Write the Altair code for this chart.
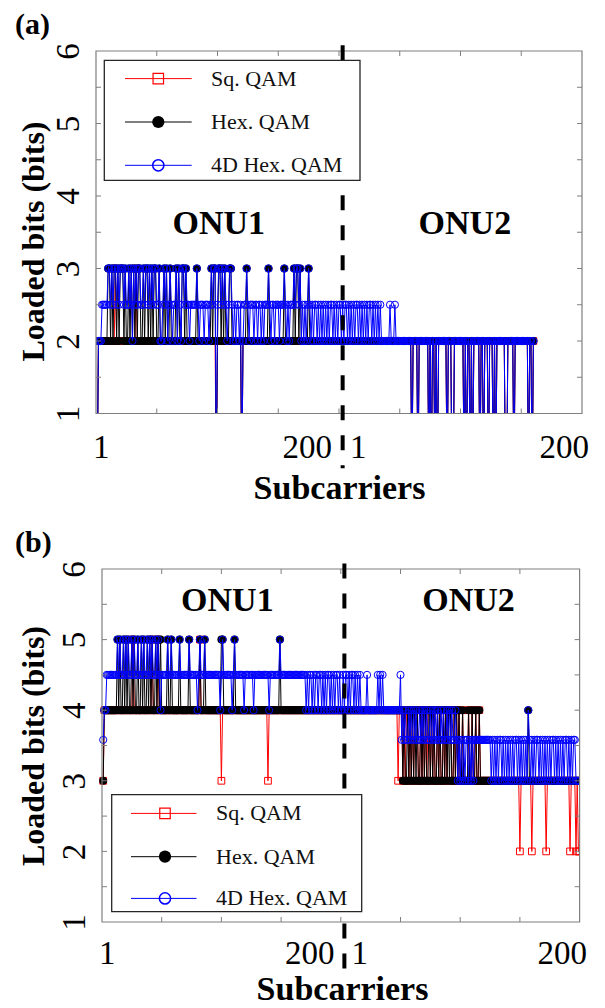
import altair as alt
import pandas as pd

FONT = "Liberation Serif"
GRAY = "#7f7f7f"

# ---------------- data (one character per subcarrier, index 1..N) ----------------
# panel (a) level codes
A_LEVELS = {"0": 0.0, "2": 2.0, "5": 2.5, "3": 3.0}
# panel (b) level codes
B_LEVELS = {"2": 2.0, "3": 3.0, "a": 3.58, "4": 4.0, "b": 4.5, "5": 5.0}

A_SQ = """
0222222222 2222232222 2222222222 2232222222 2222222222
2222222222 2222222222 2222222222 2222222222 2222222202
2222222222 2222222220 2222222222 2222222222 2222222222
2222222222 2222222222 2222222222 2222222222 2222222222
2222222222 2222222222 2222222222 2222222222 2222222222
2222222220 2222022222 2220202202 0222222202 2200222222
2202022020 2222202202 2202220202 2222220022 2220222222
2222202202
"""
A_HEX = """
0222222223 3232332323 3323223232 3232332232 3323232332
2322232322 3222232322 3323222222 2232222222 2222323302
3323232223 3222222220 2223222222 2222222222 2322222222
2222322222 2232332322 2222322222 2222222222 2222222222
2222222222 2222222222 2222222222 2222222222 2222222222
2222222220 2222022222 2220202202 0222222202 2200222222
2202022020 2222202202 2202220202 2222220022 2220222222
2222202202
"""
A_4D = """
0222555553 3535335353 3353553532 3535335535 3353535335
5322535325 3525532352 3353552555 5535255525 5525353305
3353535253 3525255250 2553525552 5525525255 5352552555
2555352525 5535335325 2525352525 5252525252 5255252525
5252552525 2525525252 5252552525 2525222222 2522252222
2222222220 2222022222 2220202202 0222222202 2200222222
2202022020 2222202202 2202220202 2222220022 2220222222
2222202202
"""

B_SQ = """
3444444444 4444444444 4444454444 4444444444 4544445444
4444444444 4444444444 4444444444 4544444444 4444444443
4444444444 4444444444 4444444444 4444444434 4444444444
4444444444 4444444444 4444444444 4444444444 4444444444
4444444444 4444444444 4444444444 4444444444 4444444344
4343443434 3444334343 4344343433 4343343434 4433434343
3433334334 3343343333 3333333333 3333333333 3333333332
3333333332 3333333333 3233333333 3333333333 3233332322
"""
B_HEX = """
3444444444 4454544545 4544545445 4454544545 4544545454
4444544544 4444544444 4454444444 4544454444 4444444445
5444444444 5444444444 4444444444 4444444444 4444444454
4444444444 4444444444 4444444444 4444444444 4444444444
4444444444 4444444444 4444444444 4444444444 4444444444
4343343434 3434334343 4334343433 4343343434 3433434343
3433334334 3343343333 3333333333 3333333333 3333333333
3333334333 3333333333 3333333333 3333333333 3333333333
"""
B_4D = """
a44bbbbbbb bb5b5bb5b5 b5bb5b5bb5 bb5b5bb5b5 b5bb5b5b4b
bbbb5bb5bb bbbb5bbbbb bb5bbbbbb4 b5bbb5bbbb bbbbbbbb4b
5bbbbbbb4b 5bbbbbbb4b bbbbbb4bbb bbbbbbbbb4 bbbbbbbb5b
bbbbbbbbbb bbbbbbbbbb 4b4bb4b4bb 4bb4b4b4bb 4b4b4bb4b4
4b4bb4b4bb 4b4b4b4444 4b44444444 b4b4b44444 444444444b
a4a4aa4a4a 4a4aa4a4a4 a4aa4a4a4a 4aa4a4aa4a 4a4aa4a3a3
a3a3aa3a3a 3aaaaaaaaa aaaaa3a3a3 a3aa3a3a3a 3a3a3aa3a3
a3a3a34a3a 3a3aa3a3a3 a3a3a3aa3a 3a3a3a3aa3 a3a3aa3333
"""

SERIES = ["Sq. QAM", "Hex. QAM", "4D Hex. QAM"]
COLORS = ["#ff0000", "#000000", "#0000ff"]
X_LABEL_POS = [4, 173.5, 215.5, 385]
X_LABEL_TEXT = ["1", "200", "1", "200"]
X_TICKS = [50, 100, 150, 200, 250, 300, 350]
Y_TICKS = [1.5, 2, 2.5, 3, 3.5, 4, 4.5, 5, 5.5]
Y_LABELS = [1, 2, 3, 4, 5, 6]
ONU_SPLIT = 203
ONU_TEXT = ["ONU1", "ONU2"]
A_ONU_X = [101, 303.6]
A_ONU_Y = [3.62, 3.62]
B_ONU_X = [105, 307]
B_ONU_Y = [5.54, 5.54]


def series_df(codes, levels):
    s = "".join(codes.split())
    return pd.DataFrame({"x": list(range(1, len(s) + 1)), "y": [levels[c] for c in s]})


DUMMY = pd.DataFrame({"d": [0]})
label_expr = "[" + ",".join("'%s'" % t for t in X_LABEL_TEXT) + "][indexof([" + \
    ",".join(str(p) for p in X_LABEL_POS) + "], datum.value)]"


def make_panel(tag, dfs, W, H, x_range, lab_pad_x, title_xy, lab_pad_y, ytitle_xy,
               onu_x, onu_y, leg, dash_extent):
    xs = alt.Scale(domain=[0, 400], nice=False, zero=False, **({"range": x_range} if x_range else {}))
    ys = alt.Scale(domain=[1, 6], nice=False, zero=False)
    ax_x = alt.Axis(values=X_LABEL_POS, labelExpr=label_expr, ticks=False, tickSize=0, domain=False,
                    grid=False, labelFont=FONT, labelFontSize=33, labelColor="black",
                    labelAlign="center", labelBaseline="alphabetic", labelPadding=lab_pad_x,
                    labelFlush=False, labelOverlap=False, title="Subcarriers", titleFont=FONT,
                    titleFontSize=34, titleFontWeight="bold", titleColor="black",
                    titleX=title_xy[0], titleY=title_xy[1], titleAlign="center",
                    titleBaseline="alphabetic")
    ax_y = alt.Axis(values=Y_LABELS, format="d", ticks=False, tickSize=0, domain=False, grid=False,
                    labelFont=FONT, labelFontSize=33, labelColor="black", labelAngle=270,
                    labelAlign="center", labelBaseline="alphabetic", labelPadding=lab_pad_y,
                    labelFlush=False, labelOverlap=False, title="Loaded bits (bits)",
                    titleFont=FONT, titleFontSize=32, titleFontWeight="bold", titleColor="black",
                    titleAngle=270, titleX=ytitle_xy[0], titleY=ytitle_xy[1],
                    titleAlign="center", titleBaseline="alphabetic")

    def X(f):
        return alt.X(f, type="quantitative", scale=xs, axis=ax_x)

    def Y(f):
        return alt.Y(f, type="quantitative", scale=ys, axis=ax_y)

    layers = []
    marks = [
        dict(shape="square", filled=False, size=45, strokeWidth=1),
        dict(shape="circle", filled=True, size=65),
        dict(shape="circle", filled=False, size=52, strokeWidth=1),
    ]
    for df, color, mk in zip(dfs, COLORS, marks):
        layers.append(alt.Chart(df).mark_line(color=color, strokeWidth=1, clip=True)
                      .encode(x=X("x"), y=Y("y")))
        layers.append(alt.Chart(df).mark_point(color=color, opacity=1, clip=True, **mk)
                      .encode(x=X("x"), y=Y("y")))

    left = x_range[0] if x_range else 0
    right = x_range[1] if x_range else W

    # frame and inward ticks
    layers.append(alt.Chart(DUMMY).mark_rect(fillOpacity=0, stroke=GRAY, strokeWidth=1.2)
                  .encode(x=alt.datum(0), x2=alt.datum(400), y=alt.datum(1), y2=alt.datum(6)))
    xt = pd.DataFrame({"v": X_TICKS})
    yt = pd.DataFrame({"v": Y_TICKS})
    layers.append(alt.Chart(xt).mark_rule(color=GRAY, strokeWidth=1)
                  .encode(x=X("v"), y=alt.value(0), y2=alt.value(5)))
    layers.append(alt.Chart(xt).mark_rule(color=GRAY, strokeWidth=1)
                  .encode(x=X("v"), y=alt.value(H - 5), y2=alt.value(H)))
    layers.append(alt.Chart(yt).mark_rule(color=GRAY, strokeWidth=1)
                  .encode(y=Y("v"), x=alt.value(left), x2=alt.value(left + 5)))
    layers.append(alt.Chart(yt).mark_rule(color=GRAY, strokeWidth=1)
                  .encode(y=Y("v"), x=alt.value(right - 5), x2=alt.value(right)))

    # ONU separator
    layers.append(alt.Chart(DUMMY).mark_rule(color="black", strokeWidth=4, strokeDash=[15, 15])
                  .encode(x=alt.datum(ONU_SPLIT), y=alt.value(dash_extent[0]),
                          y2=alt.value(dash_extent[1])))

    onu_df = pd.DataFrame({"x": onu_x, "y": onu_y, "label": ONU_TEXT})
    layers.append(alt.Chart(onu_df).mark_text(font=FONT, fontSize=34, fontWeight="bold",
                                              color="black", align="center", baseline="middle")
                  .encode(x=X("x"), y=Y("y"), text="label:N"))

    # legend
    bx0, bx1, by0, by1, lx0, lx1, mx, tx, rows = leg
    layers.append(alt.Chart(DUMMY).mark_rect(fill="white", stroke="#262626", strokeWidth=1.3)
                  .encode(x=alt.value(bx0), x2=alt.value(bx1), y=alt.value(by0), y2=alt.value(by1)))
    leg_marks = [
        dict(shape="square", filled=False, size=110, strokeWidth=1.2),
        dict(shape="circle", filled=True, size=150),
        dict(shape="circle", filled=False, size=125, strokeWidth=1.5),
    ]
    for name, color, mk, r in zip(SERIES, COLORS, leg_marks, rows):
        layers.append(alt.Chart(DUMMY).mark_rule(color=color, strokeWidth=1)
                      .encode(x=alt.value(lx0), x2=alt.value(lx1), y=alt.value(r)))
        layers.append(alt.Chart(DUMMY).mark_point(color=color, opacity=1, **mk)
                      .encode(x=alt.value(mx), y=alt.value(r)))
        layers.append(alt.Chart(DUMMY).mark_text(font=FONT, fontSize=22, color="#111111",
                                                 align="left", baseline="middle")
                      .encode(x=alt.value(tx), y=alt.value(r), text=alt.value(name)))

    layers.append(alt.Chart(DUMMY).mark_text(font=FONT, fontSize=30, fontWeight="bold",
                                             color="black", align="left", baseline="alphabetic")
                  .encode(x=alt.value(-81), y=alt.value(-17.5), text=alt.value(tag)))

    return alt.layer(*layers).properties(width=W, height=H)


A_dfs = [series_df(A_SQ, A_LEVELS), series_df(A_HEX, A_LEVELS), series_df(A_4D, A_LEVELS)]
B_dfs = [series_df(B_SQ, B_LEVELS), series_df(B_HEX, B_LEVELS), series_df(B_4D, B_LEVELS)]

WA, HA = 486, 362.5
WB, HB = 484, 353

panel_a = make_panel(
    "(a)", A_dfs, WA, HA, None, 43.5, (243, 85), 18, (-53, 190),
    A_ONU_X, A_ONU_Y,
    (8.3, 264, 9.3, 129.3, 29, 95.7, 62.3, 115, [27.6, 71, 114.3]),
    (-5.7, HA + 54.8),
)
panel_b = make_panel(
    "(b)", B_dfs, WB, HB, [6, 483.6], 41, (246, 77), 12, (-53, 176.5),
    B_ONU_X, B_ONU_Y,
    (15.7, 265.7, 225.7, 342.7, 35, 100.5, 69, 120, [244.4, 287.7, 329.4]),
    (-5.6, HB + 53),
)

chart = alt.vconcat(panel_a, panel_b, spacing=21).properties(
    padding={"left": 15, "top": 9, "right": 5, "bottom": 5},
    background="white",
).configure_view(strokeWidth=0)

chart.save("out.html", embed_options={"renderer": "svg", "actions": False})
